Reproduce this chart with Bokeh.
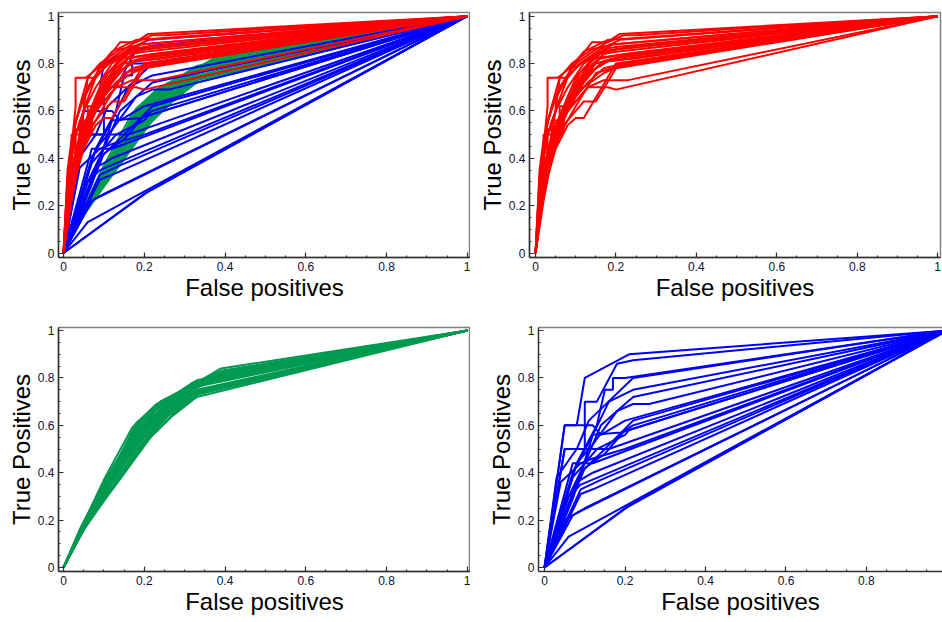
from bokeh.plotting import figure
from bokeh.models import (ColumnDataSource, Range1d, SingleIntervalTicker,
                          CustomJSTickFormatter, LinearAxis, FixedTicker)
from bokeh.layouts import column, row
from bokeh.embed import file_html
from bokeh.resources import INLINE

# ---------------- data: ROC curves (false positive rate, true positive rate) -------------
red_fpr = [
    [0, 0.02, 0.03, 0.03, 0.055, 0.10, 0.15, 0.21, 1],
    [0, 0.02, 0.03, 0.05, 0.09, 0.14, 0.18, 0.22, 0.25, 1],
    [0, 0.01, 0.03, 0.06, 0.09, 0.12, 0.18, 1],
    [0, 0.02, 0.04, 0.07, 0.10, 0.14, 0.19, 1],
    [0, 0.01, 0.02, 0.02, 0.04, 0.05, 0.08, 0.12, 0.17, 0.20, 1],
    [0, 0.02, 0.05, 0.08, 0.11, 0.16, 0.20, 1],
    [0, 0.03, 0.05, 0.07, 0.10, 0.13, 0.17, 0.20, 1],
    [0, 0.02, 0.02, 0.04, 0.05, 0.06, 0.09, 0.12, 0.16, 0.22, 1],
    [0, 0.02, 0.05, 0.08, 0.12, 0.16, 0.21, 1],
    [0, 0.01, 0.03, 0.03, 0.06, 0.06, 0.09, 0.11, 0.15, 0.19, 1],
    [0, 0.02, 0.04, 0.07, 0.10, 0.13, 0.18, 0.24, 1],
    [0, 0.03, 0.06, 0.09, 0.13, 0.17, 0.22, 1],
    [0, 0.02, 0.04, 0.04, 0.06, 0.08, 0.08, 0.12, 0.17, 0.21, 1],
    [0, 0.02, 0.05, 0.07, 0.10, 0.13, 0.17, 0.23, 1],
    [0, 0.03, 0.06, 0.09, 0.13, 0.18, 0.20, 1],
    [0, 0.02, 0.04, 0.07, 0.10, 0.12, 0.15, 0.20, 1],
    [0, 0.02, 0.05, 0.08, 0.10, 0.12, 0.20, 1],
    [0, 0.01, 0.02, 0.04, 0.06, 0.09, 0.14, 0.19, 1],
    [0, 0.01, 0.03, 0.05, 0.08, 0.11, 0.15, 0.23, 1],
    [0, 0.02, 0.03, 0.06, 0.09, 0.13, 0.18, 1],
    [0, 0.01, 0.03, 0.05, 0.06, 0.08, 0.11, 0.16, 0.21, 1],
    [0, 0.02, 0.04, 0.06, 0.10, 0.15, 0.21, 1],
    [0, 0.01, 0.02, 0.05, 0.05, 0.08, 0.12, 0.16, 0.20, 1],
    [0, 0.02, 0.04, 0.07, 0.07, 0.11, 0.14, 0.18, 1],
]
red_tpr = [
    [0, 0.45, 0.62, 0.74, 0.74, 0.80, 0.86, 0.925, 1],
    [0, 0.40, 0.55, 0.66, 0.78, 0.89, 0.89, 0.92, 0.92, 1],
    [0, 0.30, 0.50, 0.65, 0.79, 0.85, 0.90, 1],
    [0, 0.35, 0.50, 0.62, 0.74, 0.82, 0.88, 1],
    [0, 0.22, 0.40, 0.50, 0.50, 0.60, 0.70, 0.80, 0.86, 0.87, 1],
    [0, 0.36, 0.52, 0.64, 0.76, 0.84, 0.86, 1],
    [0, 0.40, 0.50, 0.58, 0.70, 0.78, 0.84, 0.85, 1],
    [0, 0.25, 0.44, 0.44, 0.55, 0.55, 0.66, 0.75, 0.82, 0.84, 1],
    [0, 0.30, 0.48, 0.60, 0.72, 0.80, 0.83, 1],
    [0, 0.20, 0.44, 0.52, 0.52, 0.62, 0.62, 0.72, 0.80, 0.82, 1],
    [0, 0.32, 0.46, 0.56, 0.68, 0.76, 0.81, 0.82, 1],
    [0, 0.38, 0.54, 0.64, 0.72, 0.78, 0.80, 1],
    [0, 0.28, 0.46, 0.56, 0.56, 0.60, 0.66, 0.70, 0.76, 0.79, 1],
    [0, 0.35, 0.48, 0.58, 0.64, 0.70, 0.73, 0.73, 1],
    [0, 0.40, 0.55, 0.62, 0.70, 0.70, 0.69, 1],
    [0, 0.30, 0.44, 0.54, 0.60, 0.64, 0.64, 0.78, 1],
    [0, 0.26, 0.44, 0.54, 0.57, 0.57, 0.80, 1],
    [0, 0.35, 0.48, 0.62, 0.74, 0.80, 0.86, 0.88, 1],
    [0, 0.25, 0.40, 0.52, 0.64, 0.74, 0.84, 0.87, 1],
    [0, 0.42, 0.56, 0.70, 0.78, 0.82, 0.83, 1],
    [0, 0.30, 0.50, 0.60, 0.74, 0.74, 0.80, 0.86, 0.90, 1],
    [0, 0.22, 0.40, 0.50, 0.62, 0.76, 0.79, 1],
    [0, 0.32, 0.45, 0.60, 0.65, 0.75, 0.81, 0.85, 0.86, 1],
    [0, 0.28, 0.43, 0.52, 0.60, 0.70, 0.77, 0.81, 1],
]

blue_fpr = [
    [0, 0.05, 0.08, 0.10, 0.21, 1],
    [0, 0.05, 0.10, 0.10, 0.13, 0.18, 0.22, 1],
    [0, 0.08, 0.13, 0.15, 0.17, 0.17, 0.20, 1],
    [0, 0.07, 0.12, 0.16, 0.22, 1],
    [0, 0.06, 0.10, 0.14, 0.22, 1],
    [0, 0.08, 0.12, 0.18, 0.22, 0.26, 1],
    [0, 0.09, 0.15, 0.22, 1],
    [0, 0.07, 0.13, 0.20, 0.21, 1],
    [0, 0.05, 0.10, 0.15, 0.16, 1],
    [0, 0.07, 0.12, 1],
    [0, 0.08, 0.12, 1],
    [0, 0.09, 0.14, 1],
    [0, 0.06, 0.09, 1],
    [0, 0.09, 0.12, 1],
    [0, 0.07, 0.10, 1],
    [0, 0.05, 0.08, 1],
    [0, 0.06, 1],
    [0, 0.21, 1],
    [0, 0.20, 1],
    [0, 0.05, 0.12, 0.14, 0.20, 1],
    [0, 0.03, 0.08, 0.11, 0.22, 1],
    [0, 0.10, 0.15, 0.20, 0.22, 1],
    [0, 0.04, 0.09, 0.12, 0.20, 1],
    [0, 0.07, 0.10, 0.12, 0.19, 1],
]
blue_tpr = [
    [0, 0.60, 0.60, 0.80, 0.90, 1],
    [0, 0.50, 0.50, 0.70, 0.70, 0.86, 0.875, 1],
    [0, 0.44, 0.60, 0.75, 0.75, 0.80, 0.80, 1],
    [0, 0.40, 0.56, 0.70, 0.75, 1],
    [0, 0.30, 0.44, 0.60, 0.72, 1],
    [0, 0.44, 0.52, 0.66, 0.69, 0.69, 1],
    [0, 0.40, 0.50, 0.62, 1],
    [0, 0.38, 0.50, 0.56, 0.58, 1],
    [0, 0.50, 0.50, 0.50, 0.50, 1],
    [0, 0.44, 0.44, 1],
    [0, 0.36, 0.40, 1],
    [0, 0.33, 0.37, 1],
    [0, 0.30, 0.35, 1],
    [0, 0.31, 0.33, 1],
    [0, 0.22, 0.25, 1],
    [0, 0.20, 0.23, 1],
    [0, 0.13, 1],
    [0, 0.26, 1],
    [0, 0.25, 1],
    [0, 0.60, 0.60, 0.56, 0.62, 1],
    [0, 0.38, 0.50, 0.62, 0.80, 1],
    [0, 0.42, 0.48, 0.58, 0.60, 1],
    [0, 0.36, 0.44, 0.46, 0.50, 1],
    [0, 0.29, 0.45, 0.56, 0.57, 1],
]

green_fpr = [
    [0, 0.04, 0.11, 0.18, 0.24, 0.33, 0.39, 1],
    [0, 0.04, 0.11, 0.18, 0.24, 0.33, 0.39, 1],
    [0, 0.05, 0.12, 0.19, 0.25, 0.34, 0.38, 1],
    [0, 0.05, 0.12, 0.19, 0.25, 0.33, 1],
    [0, 0.04, 0.11, 0.18, 0.25, 0.32, 1],
    [0, 0.05, 0.12, 0.20, 0.26, 0.33, 1],
    [0, 0.05, 0.12, 0.20, 0.26, 0.32, 1],
    [0, 0.06, 0.13, 0.21, 0.27, 0.32, 1],
    [0, 0.05, 0.11, 0.19, 0.24, 0.31, 1],
    [0, 0.05, 0.12, 0.21, 0.27, 0.33, 1],
    [0, 0.05, 0.13, 0.20, 0.26, 0.32, 1],
    [0, 0.04, 0.11, 0.18, 0.24, 0.30, 0.36, 1],
    [0, 0.05, 0.12, 0.20, 0.25, 0.33, 0.37, 1],
    [0, 0.04, 0.10, 0.18, 0.24, 0.33, 1],
    [0, 0.05, 0.12, 0.19, 0.27, 0.33, 1],
    [0, 0.06, 0.13, 0.22, 0.28, 0.34, 1],
    [0, 0.05, 0.12, 0.19, 0.24, 0.33, 0.38, 1],
    [0, 0.04, 0.11, 0.20, 0.25, 0.32, 0.36, 1],
    [0, 0.05, 0.10, 0.17, 0.23, 0.32, 1],
    [0, 0.05, 0.13, 0.18, 0.26, 0.34, 1],
    [0, 0.04, 0.12, 0.19, 0.26, 0.33, 0.39, 1],
    [0, 0.06, 0.12, 0.20, 0.27, 0.33, 1],
    [0, 0.05, 0.14, 0.21, 0.26, 0.33, 1],
    [0, 0.04, 0.11, 0.17, 0.24, 0.32, 1],
    [0, 0.05, 0.12, 0.18, 0.24, 0.34, 1],
    [0, 0.05, 0.11, 0.19, 0.25, 0.32, 0.37, 1],
]
green_tpr = [
    [0, 0.15, 0.38, 0.60, 0.70, 0.78, 0.84, 1],
    [0, 0.14, 0.37, 0.59, 0.69, 0.78, 0.83, 1],
    [0, 0.18, 0.38, 0.58, 0.68, 0.77, 0.82, 1],
    [0, 0.18, 0.37, 0.57, 0.67, 0.77, 1],
    [0, 0.14, 0.36, 0.56, 0.66, 0.76, 1],
    [0, 0.17, 0.36, 0.56, 0.66, 0.75, 1],
    [0, 0.17, 0.34, 0.55, 0.65, 0.74, 1],
    [0, 0.20, 0.36, 0.56, 0.66, 0.73, 1],
    [0, 0.19, 0.36, 0.57, 0.66, 0.73, 1],
    [0, 0.16, 0.33, 0.54, 0.64, 0.72, 1],
    [0, 0.18, 0.38, 0.57, 0.67, 0.74, 1],
    [0, 0.16, 0.39, 0.58, 0.69, 0.75, 0.80, 1],
    [0, 0.18, 0.37, 0.58, 0.68, 0.76, 0.80, 1],
    [0, 0.15, 0.35, 0.58, 0.68, 0.79, 1],
    [0, 0.19, 0.40, 0.59, 0.70, 0.78, 1],
    [0, 0.19, 0.35, 0.56, 0.66, 0.74, 1],
    [0, 0.17, 0.36, 0.56, 0.67, 0.76, 0.79, 1],
    [0, 0.15, 0.37, 0.58, 0.69, 0.76, 0.79, 1],
    [0, 0.19, 0.37, 0.59, 0.69, 0.77, 1],
    [0, 0.17, 0.40, 0.55, 0.68, 0.75, 1],
    [0, 0.15, 0.39, 0.60, 0.69, 0.77, 0.82, 1],
    [0, 0.21, 0.38, 0.58, 0.67, 0.73, 1],
    [0, 0.16, 0.38, 0.55, 0.64, 0.73, 1],
    [0, 0.14, 0.34, 0.52, 0.67, 0.77, 1],
    [0, 0.19, 0.40, 0.61, 0.70, 0.79, 1],
    [0, 0.18, 0.36, 0.60, 0.70, 0.78, 0.81, 1],
]

RED = "#ff0000"
BLUE = "#0000ff"
GREEN = "#009a50"
FONT = "Liberation Sans"


def make_fig(width, height, left, right, top, bottom, xr, yr, outline=True):
    p = figure(width=width, height=height, x_range=Range1d(*xr), y_range=Range1d(*yr),
               output_backend="svg", toolbar_location=None,
               min_border_left=left, min_border_right=right,
               min_border_top=top, min_border_bottom=bottom)
    p.grid.visible = False
    p.background_fill_color = "white"
    p.border_fill_color = "white"
    for ax in (p.xaxis[0], p.yaxis[0]):
        ax.ticker = SingleIntervalTicker(interval=0.2, num_minor_ticks=4)
        ax.formatter = CustomJSTickFormatter(code="return Number(tick.toFixed(2)).toString();")
        ax.major_tick_in = 5
        ax.major_tick_out = 0
        ax.minor_tick_in = 2
        ax.minor_tick_out = 0
        ax.axis_line_color = "#333333"
        ax.axis_line_width = 1.5
        ax.major_tick_line_color = "#333333"
        ax.minor_tick_line_color = "#333333"
        ax.major_tick_line_width = 1.2
        ax.minor_tick_line_width = 1.2
        ax.major_label_text_font = FONT
        ax.major_label_text_font_size = "12px"
        ax.major_label_text_color = "#111133"
        ax.major_label_standoff = 4
        ax.axis_label_text_font = FONT
        ax.axis_label_text_font_size = "24px"
        ax.axis_label_text_font_style = "normal"
        ax.axis_label_text_color = "#000000"
        ax.axis_label_standoff = 0
    p.xaxis[0].axis_label = "False positives"
    p.yaxis[0].axis_label = "True Positives"
    if outline:
        p.outline_line_color = "#808080"
        p.outline_line_width = 1.5
    else:
        p.outline_line_color = None
        top_axis = LinearAxis(ticker=FixedTicker(ticks=[]), axis_line_color="#808080",
                              axis_line_width=1.5, major_tick_in=0, major_tick_out=0,
                              minor_tick_in=0, minor_tick_out=0,
                              major_label_text_font_size="0px", major_label_standoff=0,
                              axis_label_standoff=0)
        p.add_layout(top_axis, "above")
    return p


def add_curves(p, xs, ys, color, width):
    src = ColumnDataSource(data=dict(xs=xs, ys=ys))
    p.multi_line(xs="xs", ys="ys", source=src, line_color=color, line_width=width)


Y_TOP = (-0.019, 1.0156)
Y_BOT = (-0.017, 1.013)

p1 = make_fig(470, 310, 58, 0, 12, 53, (-0.0124, 1.008), Y_TOP)
add_curves(p1, green_fpr, green_tpr, GREEN, 2)
add_curves(p1, blue_fpr, blue_tpr, BLUE, 2)
add_curves(p1, red_fpr, red_tpr, RED, 2)

p2 = make_fig(472, 310, 59, 2, 12, 53, (-0.015, 1.007), Y_TOP)
add_curves(p2, red_fpr, red_tpr, RED, 2)

p3 = make_fig(470, 312, 58, 0, 17, 51, (-0.0124, 1.008), Y_BOT)
add_curves(p3, green_fpr, green_tpr, GREEN, 2)

p4 = make_fig(472, 312, 68, 0, 17, 51, (-0.015, 0.989), Y_BOT, outline=False)
add_curves(p4, blue_fpr, blue_tpr, BLUE, 2)

layout = column(row(p1, p2), row(p3, p4))

open("out.html", "w").write(file_html(layout, INLINE))
